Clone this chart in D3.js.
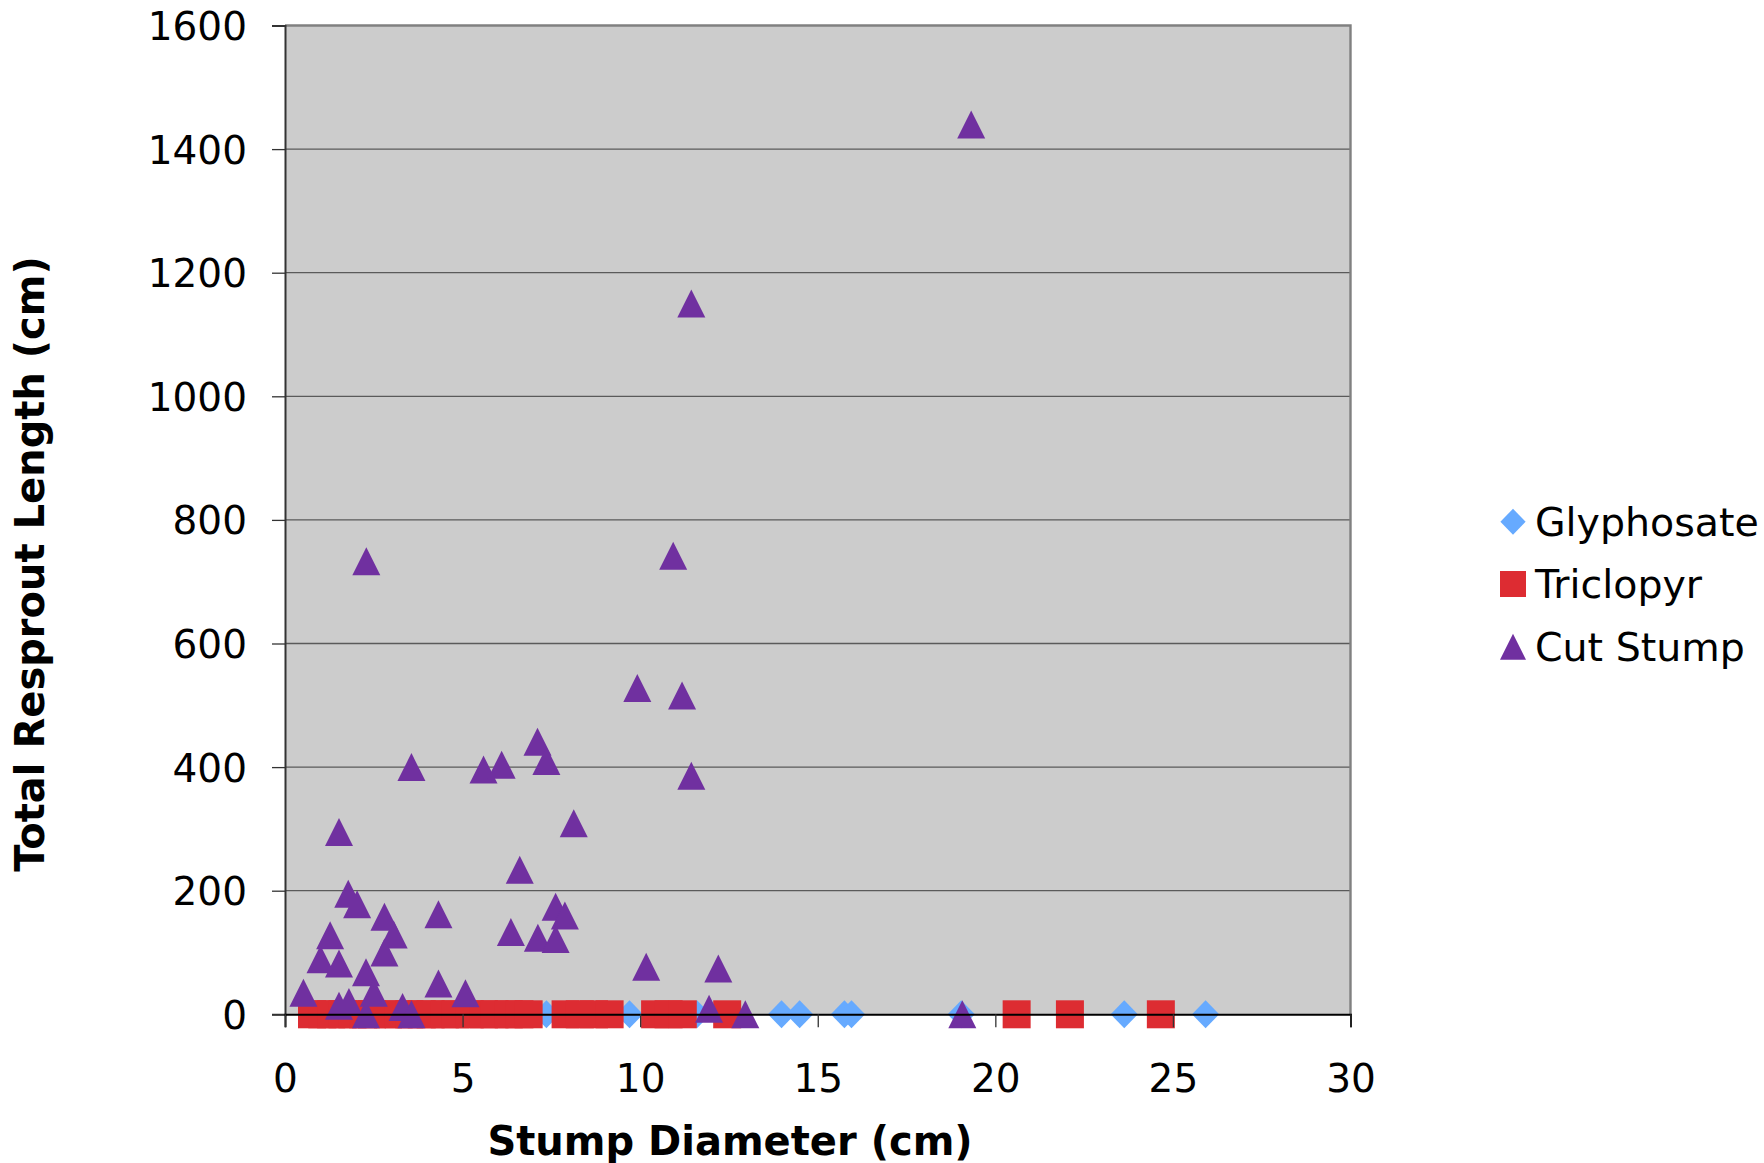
<!DOCTYPE html>
<html>
<head>
<meta charset="utf-8">
<script src="https://cdn.jsdelivr.net/npm/d3@7"></script>
<style>
  html, body { margin: 0; padding: 0; background: #ffffff; }
  svg { display: block; font-family: "DejaVu Sans", Verdana, sans-serif; }
</style>
</head>
<body>
<svg id="chart" width="1764" height="1163"></svg>
<script>
// Stump diameter (cm) vs. total resprout length (cm) for three treatments

const seriesNames = ["Glyphosate", "Triclopyr", "Cut Stump"];

// Glyphosate: all stumps had no resprouts
const glyphosateDiameter = [7.36, 9.7, 11.6, 13.98, 14.49, 15.75, 15.95, 19.04, 23.63, 25.92];
const glyphosateLength   = [0, 0, 0, 0, 0, 0, 0, 0, 0, 0];

// Triclopyr: all stumps had no resprouts
const triclopyrDiameter = [0.76, 1.05, 1.3, 1.62, 1.9, 2.2, 2.45, 2.9, 3.2, 3.5, 3.85, 4.1,
                           4.5, 4.8, 5.2, 5.6, 5.9, 6.3, 6.6, 6.86, 7.9, 8.3, 8.7, 9.14,
                           10.42, 10.8, 11.2, 12.45, 20.6, 22.1, 24.66];
const triclopyrLength   = triclopyrDiameter.map(() => 0);

// Cut stump (untreated control)
const cutStumpDiameter = [0.52, 1.0, 1.27, 1.52, 1.52, 1.52, 1.78, 1.8, 2.03, 2.28, 2.29, 2.28,
                          2.5, 2.8, 2.8, 3.06, 3.31, 3.56, 3.56, 4.32, 4.32, 5.08, 5.59, 6.1,
                          6.36, 6.61, 7.11, 7.12, 7.36, 7.62, 7.62, 7.88, 8.13, 9.92, 10.17,
                          10.93, 11.18, 11.44, 11.44, 11.94, 12.2, 12.96, 19.07, 19.32];
const cutStumpLength   = [35, 89, 128, 82, 14, 295, 195, 20, 178, 68, 733, 0,
                          35, 158, 100, 129, 12, 0, 400, 162, 50, 34, 396, 404,
                          133, 234, 441, 124, 410, 174, 122, 160, 309, 528, 77,
                          742, 516, 386, 1150, 9, 74, 0, 0, 1440];

const xTicks = [0, 5, 10, 15, 20, 25, 30];
const yTicks = [0, 200, 400, 600, 800, 1000, 1200, 1400, 1600];

const colors = { "Glyphosate": "#66AAFF", "Triclopyr": "#DD2C32", "Cut Stump": "#7030A0" };
const shapes = { "Glyphosate": "diamond", "Triclopyr": "square", "Cut Stump": "triangle" };

const plot = { left: 285, right: 1350.5, top: 25.5, bottom: 1014.3 };

const svg = d3.select("#chart");
const x = d3.scaleLinear().domain([0, 30]).range([plot.left, plot.right]);
const y = d3.scaleLinear().domain([0, 1600]).range([plot.bottom, plot.top]);

// marker outlines, centred on the data point
function markerPath(shape, s) {
  const h = s / 2, p = d3.path();
  if (shape === "triangle") {
    p.moveTo(0, -h); p.lineTo(h, h); p.lineTo(-h, h); p.closePath();
  } else if (shape === "square") {
    p.rect(-h, -h, s, s);
  } else {
    const w = h * 0.97;
    p.moveTo(0, -h); p.lineTo(w, 0); p.lineTo(0, h); p.lineTo(-w, 0); p.closePath();
  }
  return p.toString();
}

// plot area background
svg.append("rect")
  .attr("x", plot.left).attr("y", plot.top)
  .attr("width", plot.right - plot.left).attr("height", plot.bottom - plot.top)
  .attr("fill", "#cccccc");

// horizontal gridlines
svg.append("g")
  .selectAll("line")
  .data(yTicks.filter(t => t > 0 && t < 1600))
  .join("line")
  .attr("x1", plot.left).attr("x2", plot.right)
  .attr("y1", d => y(d)).attr("y2", d => y(d))
  .attr("stroke", "#5a5a5a").attr("stroke-width", 1.3);

// plot frame (top and right)
svg.append("path")
  .attr("d", `M${plot.left},${plot.top}H${plot.right}V${plot.bottom}`)
  .attr("fill", "none").attr("stroke", "#808080").attr("stroke-width", 2.4);

// y axis
const yAxis = d3.axisLeft(y).tickValues(yTicks).tickSize(13).tickPadding(25).tickFormat(d3.format("d"));
const gy = svg.append("g").attr("transform", `translate(${plot.left},0)`).call(yAxis);
gy.select(".domain").attr("stroke", "#333333").attr("stroke-width", 2);
gy.selectAll(".tick line").attr("stroke", "#333333").attr("stroke-width", 1.3);
gy.selectAll(".tick text").attr("font-size", 39).attr("fill", "#000")
  .attr("font-family", "DejaVu Sans").attr("dy", "0.36em");

// series, drawn in legend order
const series = [
  { name: "Glyphosate", xs: glyphosateDiameter, ys: glyphosateLength },
  { name: "Triclopyr",  xs: triclopyrDiameter,  ys: triclopyrLength },
  { name: "Cut Stump",  xs: cutStumpDiameter,   ys: cutStumpLength }
];

series.forEach(s => {
  const pts = s.xs.map((d, i) => ({ d, v: s.ys[i] }));
  svg.append("g")
    .selectAll("path")
    .data(pts)
    .join("path")
    .attr("d", markerPath(shapes[s.name], 28))
    .attr("transform", p => `translate(${x(p.d)},${y(p.v)})`)
    .attr("fill", colors[s.name]);
});

// x axis, drawn over the lower halves of the markers
const xAxis = d3.axisBottom(x).tickValues(xTicks).tickSize(13).tickPadding(37).tickFormat(d3.format("d"));
const gx = svg.append("g").attr("transform", `translate(0,${plot.bottom})`).call(xAxis);
gx.select(".domain").attr("stroke", "#000").attr("stroke-width", 2);
gx.selectAll(".tick line").attr("stroke", "#333333").attr("stroke-width", 1.3);
gx.selectAll(".tick text").attr("font-size", 39).attr("fill", "#000")
  .attr("font-family", "DejaVu Sans").attr("dy", "0.71em");

// axis titles
svg.append("text")
  .attr("x", 730).attr("y", 1155)
  .attr("text-anchor", "middle")
  .attr("font-size", 40).attr("font-weight", "bold")
  .text("Stump Diameter (cm)");

svg.append("text")
  .attr("transform", "translate(44,564) rotate(-90)")
  .attr("text-anchor", "middle")
  .attr("font-size", 40).attr("font-weight", "bold")
  .text("Total Resprout Length (cm)");

// legend
const legend = svg.append("g").attr("transform", "translate(1513,0)");
const rowY = [521.7, 584, 646.7];
seriesNames.forEach((name, i) => {
  legend.append("path")
    .attr("d", markerPath(shapes[name], 26))
    .attr("transform", `translate(0,${rowY[i]})`)
    .attr("fill", colors[name]);
  legend.append("text")
    .attr("x", 22).attr("y", rowY[i]).attr("dy", "0.36em")
    .attr("font-size", 39.5)
    .text(name);
});
</script>
</body>
</html>
